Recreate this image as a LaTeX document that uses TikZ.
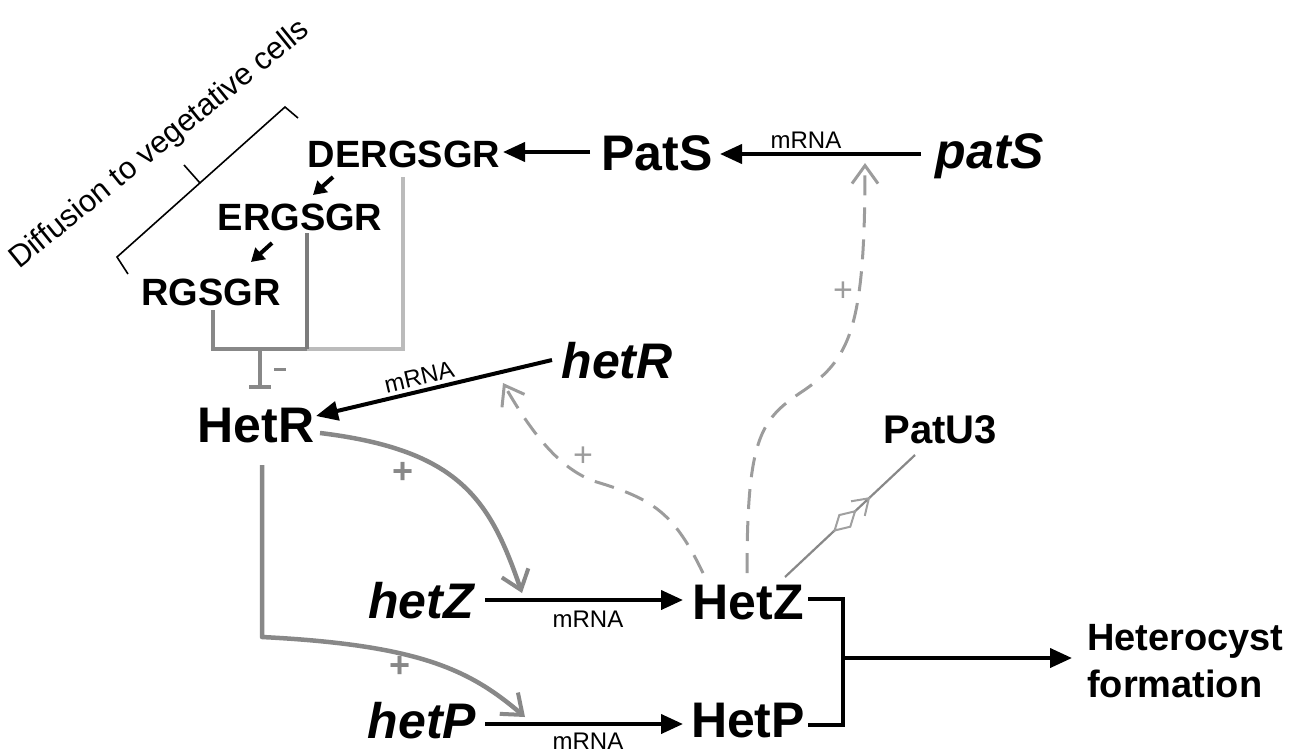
\documentclass[tikz,border=0pt]{standalone}
\usepackage{fontspec}
\setmainfont{Liberation Sans}[Ligatures=NoCommon]
\usetikzlibrary{arrows.meta,decorations.markings}
\definecolor{gmid}{HTML}{888888}
\definecolor{gdark}{HTML}{7C7C7C}
\definecolor{glight}{HTML}{BBBBBB}
\definecolor{gdash}{HTML}{9C9C9C}
\begin{document}
\begin{tikzpicture}[x=1pt,y=-1pt,
  pep/.style={inner sep=0pt, anchor=base, font=\bfseries\fontsize{38}{42}\selectfont},
  big/.style={inner sep=0pt, anchor=base, font=\bfseries\fontsize{50}{56}\selectfont},
  gene/.style={inner sep=0pt, anchor=base, font=\bfseries\itshape\fontsize{50}{56}\selectfont},
  small/.style={inner sep=0pt, anchor=base, font=\fontsize{24}{26}\selectfont},
  plusb/.style={inner sep=0pt, text=gmid, font=\bfseries\fontsize{36}{38}\selectfont},
  plusd/.style={inner sep=0pt, text=gdash, font=\fontsize{34}{36}\selectfont},
  blk/.style={draw=black, line width=4pt, -{Triangle[length=22pt,width=19pt]}},
  blksmall/.style={draw=black, line width=4pt, -{Triangle[length=13pt,width=15pt]}},
  garr/.style={draw=gmid, line width=4.5pt, -{Straight Barb[length=18pt,width=28pt,line width=4pt]}},
  dsh/.style={draw=gdash, line width=3pt, dash pattern=on 20pt off 12pt, -{Straight Barb[length=18pt,width=26pt,line width=3pt]}},
  inh/.style={line width=3.2pt}
]
\useasboundingbox (0,0) rectangle (1301,748);

% ---- text nodes
\node[pep] (d) at (404,167) {DERGSGR};
\node[pep] (e) at (300,230) {ERGSGR};
\node[pep] (r) at (211,305) {RGSGR};
\node[big] (ps) at (657,170) {PatS};
\node[gene] (pg) at (990,168) {patS};
\node[small] (m1) at (806,148) {mRNA};
\node[gene] (hrg) at (617,378) {hetR};
\node[big] (hr) at (256,442) {HetR};
\node[small, rotate=13.3] (m2) at (421,385) {mRNA};
\node[gene] (hzg) at (421,618) {hetZ};
\node[big] (hz) at (748,619) {HetZ};
\node[small] (m3) at (588,627) {mRNA};
\node[gene] (hpg) at (422,738) {hetP};
\node[big] (hp) at (748,737) {HetP};
\node[small] (m4) at (588,749) {mRNA};
\node[pep, anchor=base west] (hc1) at (1087,650) {Heterocyst};
\node[pep, anchor=base west] (hc2) at (1087,697) {formation};
\node[pep, font=\bfseries\fontsize{40}{44}\selectfont] (pu) at (940,443) {PatU3};
\node[inner sep=0pt, rotate=39, font=\fontsize{31}{34}\selectfont] (diff) at (160,145) {Dif\kern0ptfusion to vegetative cells};

% ---- bracket for diffusion
\draw[line width=1.6pt, line join=miter] (128,274) -- (117,257) -- (285,107) -- (298,118);
\draw[line width=1.6pt] (200,183) -- (184,165);

% ---- coordinates
\coordinate (dA) at (333,177); \coordinate (eT) at (313,195);
\coordinate (eA) at (272,243); \coordinate (rT) at (251,262);
\coordinate (psL) at (590,152); \coordinate (dR) at (503,152);
\coordinate (pgL) at (921,154); \coordinate (psR) at (720,154);
\coordinate (hrgL) at (552,360); \coordinate (hrR) at (316,416);
\coordinate (hzgR) at (485,600); \coordinate (hzL) at (683,600);
\coordinate (hpgR) at (485,724); \coordinate (hpL) at (683,724);
\coordinate (hzR) at (808,599); \coordinate (hpR) at (808,725);
\coordinate (junc) at (843,658); \coordinate (hcL) at (1072,658);
\coordinate (hrE) at (320,433); \coordinate (hrS) at (262,465);
\coordinate (zTip) at (522,593); \coordinate (pTip) at (525,717);
\coordinate (dz1) at (703,573); \coordinate (hrgTip) at (503,383);
\coordinate (dz2) at (747,573); \coordinate (pgTip) at (865,163);
\coordinate (puS) at (785,577); \coordinate (puE) at (915,455);

% ---- black arrows
\draw[blksmall] (dA) -- (eT);
\draw[blksmall] (eA) -- (rT);
\draw[blk] (psL) -- (dR);
\draw[blk] (pgL) -- (psR);
\draw[blk] (hrgL) -- (hrR);
\draw[blk] (hzgR) -- (hzL);
\draw[blk] (hpgR) -- (hpL);
\draw[line width=4pt, line join=miter] (hzR) -- (843,599) -- (843,725) -- (hpR);
\draw[blk] (junc) -- (hcL);

% ---- inhibition from peptides
\draw[inh, draw=glight] (403,177) -- (403,349) -- (307,349);
\draw[inh, draw=gmid] (213,310) -- (213,349) -- (307,349);
\draw[inh, draw=gdark] (307,233) -- (307,349);
\draw[inh, draw=gmid, line width=3.6pt] (260,349) -- (260,386);
\draw[draw=gmid, line width=4pt] (249,387) -- (271,387);
\draw[draw=gmid, line width=3pt] (274,369) -- (286,369);

% ---- gray activating arrows from HetR
\draw[garr] (hrE) .. controls (460,450) and (490,500) .. (zTip);
\draw[garr, line join=round] (hrS) -- (262,637) .. controls (420,645) and (470,670) .. (pTip);
\node[plusb] (p1) at (403,473) {+};
\node[plusb] (p2) at (400,667) {+};

% ---- dashed activation from HetZ
\draw[dsh] (dz1) .. controls (675,515) and (655,500) .. (600,483) .. controls (560,472) and (530,430) .. (hrgTip);
\draw[dsh] (dz2) .. controls (747,440) and (760,420) .. (800,393) .. controls (850,360) and (865,330) .. (pgTip);
\node[plusd] (p3) at (583,457) {+};
\node[plusd] (p4) at (843,292) {+};

% ---- PatU3 interaction
\draw[draw=gmid, line width=2.2pt, postaction={decorate},
  decoration={markings,
    mark=at position 0.46 with {\draw[draw=gmid!80, fill=white, line width=2pt] (-14pt,0pt) -- (0pt,8pt) -- (14pt,0pt) -- (0pt,-8pt) -- cycle;},
    mark=at position 0.645 with {\draw[draw=gmid!80, line width=2pt] (-15pt,10pt) -- (0pt,0pt) -- (-15pt,-10pt);}}]
  (puS) -- (puE);
\end{tikzpicture}
\end{document}
